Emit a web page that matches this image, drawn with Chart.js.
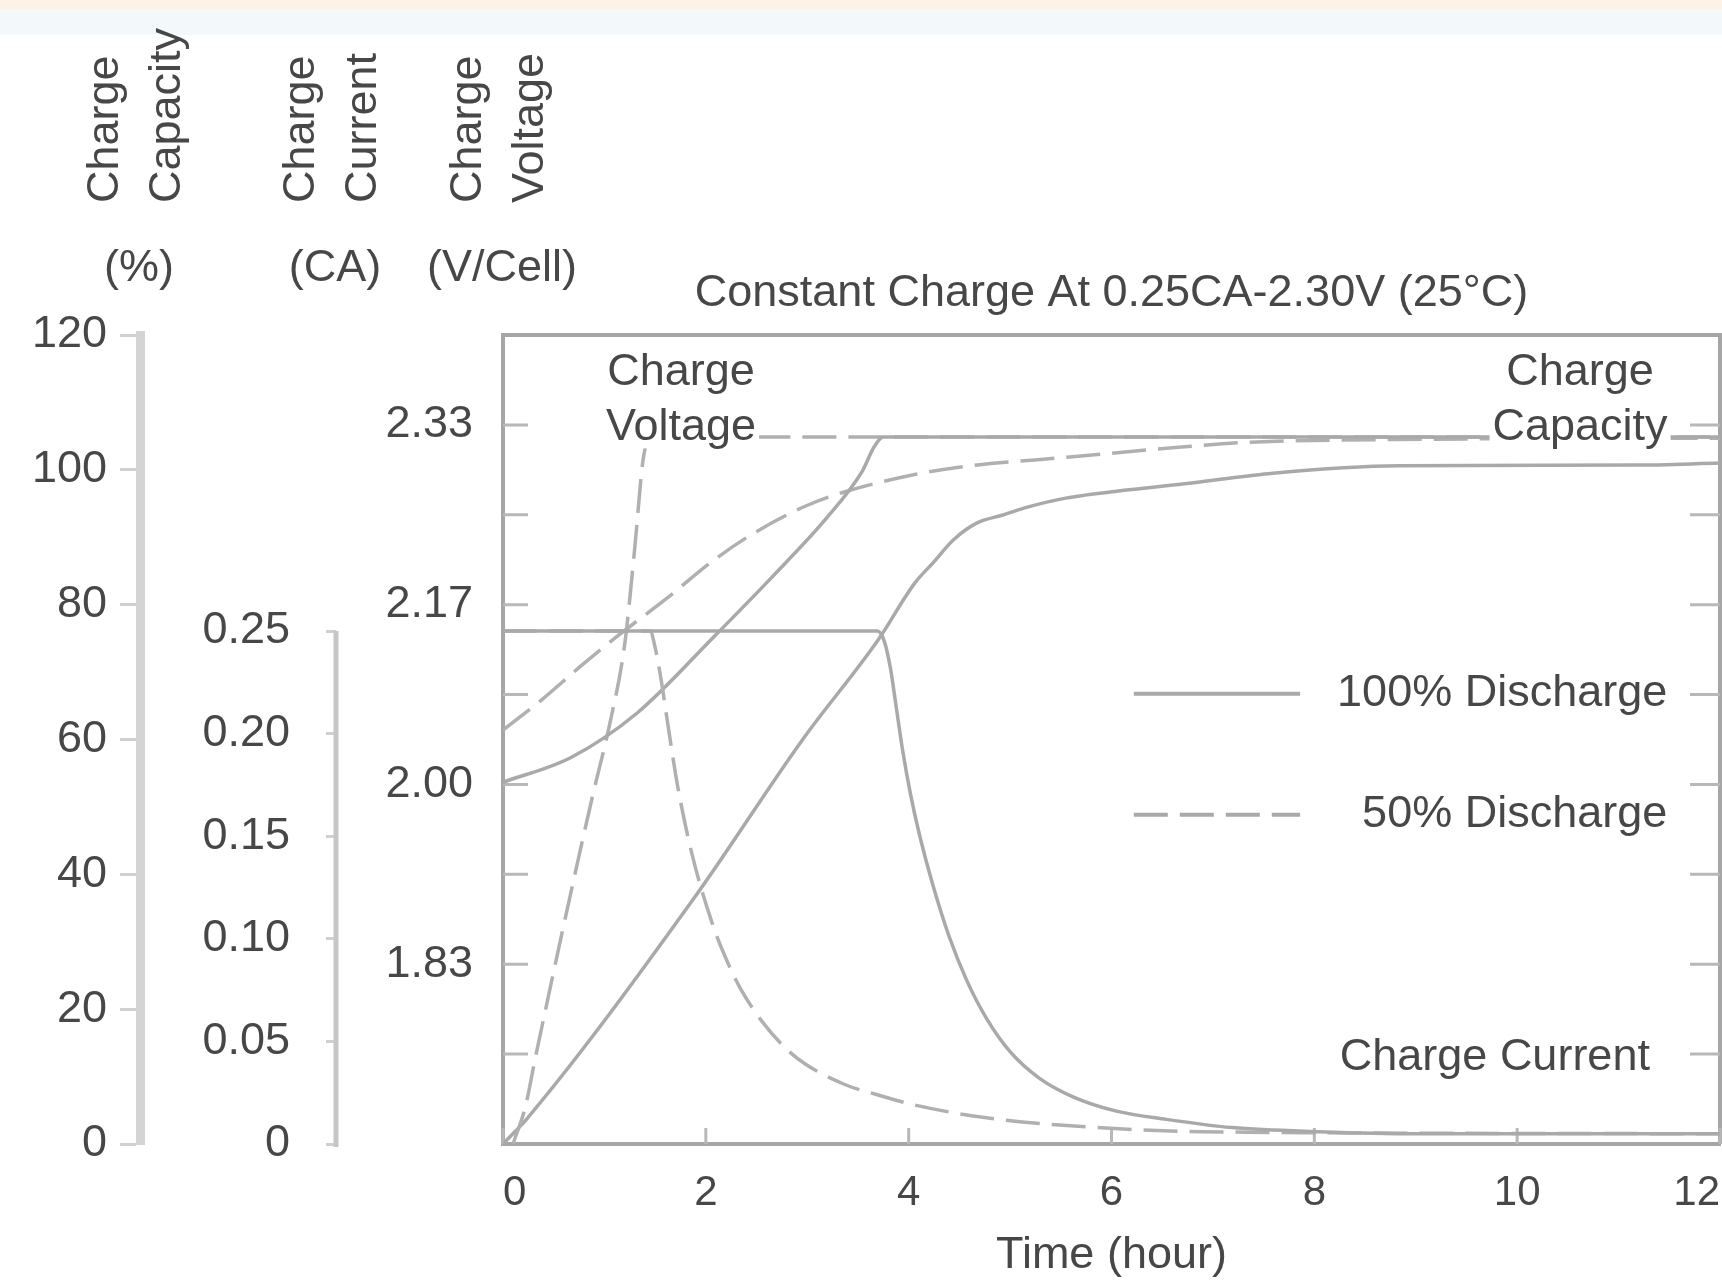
<!DOCTYPE html>
<html>
<head>
<meta charset="utf-8">
<script src="https://cdn.jsdelivr.net/npm/chart.js@4.4.1/dist/chart.umd.min.js"></script>
<style>
html,body{margin:0;padding:0;background:#fff;overflow:hidden}
canvas{display:block}
</style>
</head>
<body>
<canvas id="c" width="1722" height="1287"></canvas>
<script>
// ---------- data (time in hours) ----------
const xTickValues = [0, 2, 4, 6, 8, 10, 12];
const capacityTicks = [0, 20, 40, 60, 80, 100, 120];
const currentTicks = [0, 0.05, 0.10, 0.15, 0.20, 0.25];
const voltageTicks = [11 / 6, 12 / 6, 13 / 6, 14 / 6];
const voltageMinorTicks = [21 / 12, 22 / 12, 23 / 12, 24 / 12, 25 / 12, 26 / 12, 27 / 12, 28 / 12];

// Charge current (CA)
const current100Time = [0, 3.69, 3.76, 3.82, 3.88, 3.94, 4.02, 4.11, 4.24, 4.40, 4.57, 4.77, 5.00, 5.29, 5.62, 6.05, 6.54, 7.19, 8.05, 9.0, 12.0];
const current100 = [0.25, 0.25, 0.245, 0.232, 0.212, 0.192, 0.170, 0.150, 0.126, 0.101, 0.080, 0.061, 0.045, 0.032, 0.023, 0.016, 0.012, 0.008, 0.006, 0.005, 0.005];
const current50Time = [0, 1.45, 1.50, 1.56, 1.63, 1.72, 1.86, 2.06, 2.22, 2.35, 2.55, 2.78, 2.98, 3.37, 3.69, 4.06, 4.73, 5.56, 6.87, 12];
const current50 = [0.25, 0.25, 0.242, 0.226, 0.203, 0.175, 0.142, 0.108, 0.088, 0.075, 0.060, 0.047, 0.039, 0.029, 0.024, 0.019, 0.013, 0.009, 0.006, 0.005];

// Charge voltage (V/Cell)
const voltage100Time = [0, 0.67, 1.32, 2.08, 2.65, 3.20, 3.54, 3.66, 3.75, 12];
const voltage100 = [2.002, 2.025, 2.066, 2.137, 2.192, 2.248, 2.290, 2.313, 2.322, 2.322];
const voltage50Time = [0.10, 0.22, 0.32, 0.60, 0.89, 1.05, 1.20, 1.30, 1.38, 1.45, 12];
const voltage50 = [1.667, 1.701, 1.747, 1.870, 1.992, 2.055, 2.130, 2.220, 2.300, 2.322, 2.322];

// Charge capacity (%)
const capacity100Time = [0, 0.25, 1.89, 2.95, 3.70, 4.06, 4.24, 4.44, 4.67, 4.93, 5.18, 5.55, 6.15, 6.87, 7.59, 8.84, 11.16, 12];
const capacity100 = [0, 4.0, 36.6, 59.9, 74.8, 83.2, 86.2, 89.6, 92.1, 93.3, 94.5, 95.8, 97.0, 98.2, 99.5, 100.6, 100.7, 101.0];
const capacity50Time = [0, 0.39, 0.76, 1.10, 1.62, 2.07, 2.44, 2.98, 3.34, 4.06, 4.55, 5.59, 6.63, 7.37, 8.84, 12];
const capacity50 = [61.4, 66.0, 70.8, 75.0, 81.0, 86.5, 90.3, 94.6, 96.6, 99.3, 100.5, 101.9, 103.3, 104.1, 104.5, 104.7];

// ---------- texts ----------
const chartTitle = 'Constant Charge At 0.25CA-2.30V (25\u00B0C)';
const xTitle = 'Time (hour)';
const axisTitles = [
  { id: 'yC', lines: ['Charge', 'Capacity'], unit: '(%)' },
  { id: 'yI', lines: ['Charge', 'Current'], unit: '(CA)' },
  { id: 'yV', lines: ['Charge', 'Voltage'], unit: '(V/Cell)' }
];
const plotNotes = [
  { text: 'Charge', t: 1.755, v: 2.382, align: 'center', bg: true },
  { text: 'Voltage', t: 1.755, v: 2.331, align: 'center', bg: true },
  { text: 'Charge', t: 10.62, v: 2.382, align: 'center', bg: true },
  { text: 'Capacity', t: 10.62, v: 2.331, align: 'center', bg: true },
  { text: '100% Discharge', t: 11.48, v: 2.084, align: 'right' },
  { text: '50% Discharge', t: 11.48, v: 1.972, align: 'right' },
  { text: 'Charge Current', t: 9.78, v: 1.747, align: 'center' }
];
const legendSamples = [
  { t0: 6.22, t1: 7.86, v: 2.084, dash: [] },
  { t0: 6.22, t1: 7.86, v: 1.972, dash: [34, 12] }
];

// ---------- styles ----------
const FONT = "'Liberation Sans', Arial, sans-serif";
const FS = 45;
const TEXT = '#474747';
const SOLID = '#a9a9a9';
const DASHED = '#b0b0b0';
const FRAME = '#a6a6a6';
const DASH = [34, 12];

function pts(ts, vs) { return ts.map((t, i) => ({ x: t, y: vs[i] })); }
function series(ts, vs, axis, dashed) {
  return {
    data: pts(ts, vs), yAxisID: axis,
    borderColor: dashed ? DASHED : SOLID, borderWidth: 3.5,
    borderDash: dashed ? DASH : [],
    pointRadius: 0, fill: false, cubicInterpolationMode: 'monotone'
  };
}

const bgPlugin = {
  id: 'bg',
  beforeDraw(chart) {
    const c = chart.ctx;
    c.save();
    c.fillStyle = '#ffffff'; c.fillRect(0, 0, chart.width, chart.height);
    c.fillStyle = '#fcf3e6'; c.fillRect(0, 0, chart.width, 9);
    c.fillStyle = '#f3f9fb'; c.fillRect(0, 9, chart.width, 26);
    c.restore();
  }
};

const framePlugin = {
  id: 'frame',
  beforeDatasetsDraw(chart) {
    const { ctx, chartArea: a, scales } = chart;
    const v = scales.yV, x = scales.x, cur = scales.yI;
    ctx.save();
    ctx.strokeStyle = FRAME; ctx.lineWidth = 4;
    ctx.beginPath();
    ctx.moveTo(a.left, a.top); ctx.lineTo(a.right, a.top); ctx.lineTo(a.right, a.bottom);
    ctx.stroke();
    ctx.strokeStyle = '#b8b8b8'; ctx.lineWidth = 3;
    voltageMinorTicks.forEach(val => {
      const y = v.getPixelForValue(val);
      ctx.beginPath();
      ctx.moveTo(a.left, y); ctx.lineTo(a.left + 25, y);
      ctx.moveTo(a.right - 30, y); ctx.lineTo(a.right, y);
      ctx.stroke();
    });
    xTickValues.forEach(t => {
      const px = x.getPixelForValue(t);
      ctx.beginPath(); ctx.moveTo(px, a.bottom); ctx.lineTo(px, a.bottom - 16); ctx.stroke();
    });
    // current axis line only spans its labelled range
    ctx.strokeStyle = '#c6c6c6'; ctx.lineWidth = 5;
    ctx.beginPath();
    ctx.moveTo(cur.right, cur.getPixelForValue(currentTicks[currentTicks.length - 1]));
    ctx.lineTo(cur.right, a.bottom + 3);
    ctx.stroke();
    ctx.restore();
  }
};

const textPlugin = {
  id: 'texts',
  afterDatasetsDraw(chart) {
    const { ctx, scales } = chart;
    const x = scales.x, v = scales.yV;
    ctx.save();
    ctx.font = FS + 'px ' + FONT;
    ctx.textBaseline = 'middle';
    legendSamples.forEach(s => {
      ctx.strokeStyle = SOLID; ctx.lineWidth = 4; ctx.setLineDash(s.dash);
      const y = v.getPixelForValue(s.v);
      ctx.beginPath(); ctx.moveTo(x.getPixelForValue(s.t0), y); ctx.lineTo(x.getPixelForValue(s.t1), y); ctx.stroke();
    });
    ctx.setLineDash([]);
    plotNotes.forEach(n => {
      const px = x.getPixelForValue(n.t), py = v.getPixelForValue(n.v);
      ctx.textAlign = n.align;
      if (n.bg) {
        const w = ctx.measureText(n.text).width;
        const lx = n.align === 'center' ? px - w / 2 : (n.align === 'right' ? px - w : px);
        ctx.fillStyle = '#ffffff';
        ctx.fillRect(lx - 3, py - 21, w + 6, 42);
      }
      ctx.fillStyle = TEXT;
      ctx.fillText(n.text, px, py);
    });
    ctx.restore();
  },
  afterDraw(chart) {
    const { ctx, chartArea: a, scales } = chart;
    ctx.save();
    ctx.font = FS + 'px ' + FONT;
    ctx.fillStyle = TEXT;
    axisTitles.forEach(at => {
      const s = scales[at.id];
      const ax = s.right;
      at.lines.forEach((line, i) => {
        ctx.save();
        ctx.translate(ax - 3 + (i === 0 ? -31 : 31), a.top - 132);
        ctx.rotate(-Math.PI / 2);
        ctx.textAlign = 'left'; ctx.textBaseline = 'middle';
        ctx.fillText(line, 0, 0);
        ctx.restore();
      });
      ctx.textAlign = 'center'; ctx.textBaseline = 'middle';
      ctx.fillText(at.unit, ax - 1, a.top - 66);
    });
    ctx.restore();
  }
};

const xTickFont = { family: FONT, size: 42 };
const yTickFont = { family: FONT, size: 45 };

new Chart(document.getElementById('c'), {
  type: 'line',
  data: {
    datasets: [
      series(current100Time, current100, 'yI', false),
      series(current50Time, current50, 'yI', true),
      series(voltage100Time, voltage100, 'yV', false),
      series(voltage50Time, voltage50, 'yV', true),
      series(capacity100Time, capacity100, 'yC', false),
      series(capacity50Time, capacity50, 'yC', true)
    ]
  },
  options: {
    responsive: false,
    animation: false,
    devicePixelRatio: 1,
    layout: { padding: { top: 240, right: 2, bottom: 0, left: 0 } },
    plugins: {
      legend: { display: false },
      tooltip: { enabled: false },
      title: {
        display: true, text: chartTitle, fullSize: false, align: 'center',
        color: TEXT, font: { family: FONT, size: FS, weight: 'normal' },
        padding: { top: 27, bottom: 14 }
      }
    },
    scales: {
      x: {
        type: 'linear', position: 'bottom', min: 0, max: 12,
        afterBuildTicks: s => { s.ticks = xTickValues.map(val => ({ value: val })); },
        afterFit: s => { s.height = 143; s.paddingLeft = 0; s.paddingRight = 0; },
        grid: { drawOnChartArea: false, drawTicks: false },
        border: { color: FRAME, width: 4 },
        ticks: { color: TEXT, font: xTickFont, padding: 24, maxRotation: 0, autoSkip: false,
                 align: 'inner', callback: val => String(val) },
        title: { display: true, text: xTitle, color: TEXT,
                 font: { family: FONT, size: FS }, padding: { top: 0, bottom: 4 } }
      },
      yC: {
        type: 'linear', position: 'left', weight: 3, min: 0, max: 120,
        afterBuildTicks: s => { s.ticks = capacityTicks.map(val => ({ value: val })); },
        afterFit: s => { s.width = 140; },
        border: { color: '#d4d4d4', width: 9 },
        grid: { drawOnChartArea: false, drawTicks: true, tickLength: 20, tickColor: '#d0d0d0', tickWidth: 3 },
        ticks: { color: TEXT, font: yTickFont, padding: 13, callback: val => String(val) }
      },
      yI: {
        type: 'linear', position: 'left', weight: 2, min: 0, max: 0.3943,
        afterBuildTicks: s => { s.ticks = currentTicks.map(val => ({ value: val })); },
        afterFit: s => { s.width = 196; },
        border: { display: false },
        grid: { drawOnChartArea: false, drawTicks: true, tickLength: 10, tickColor: '#d0d0d0', tickWidth: 3 },
        ticks: { color: TEXT, font: yTickFont, padding: 36,
                 callback: val => (val === 0 ? '0' : Number(val).toFixed(2)) }
      },
      yV: {
        type: 'linear', position: 'left', weight: 1, min: 10 / 6, max: 14.5 / 6,
        afterBuildTicks: s => { s.ticks = voltageTicks.map(val => ({ value: val })); },
        afterFit: s => { s.width = 167; },
        border: { color: FRAME, width: 4 },
        grid: { drawOnChartArea: false, drawTicks: false },
        ticks: { color: TEXT, font: yTickFont, padding: 30, callback: val => Number(val).toFixed(2) }
      }
    }
  },
  plugins: [bgPlugin, framePlugin, textPlugin]
});
</script>
</body>
</html>
